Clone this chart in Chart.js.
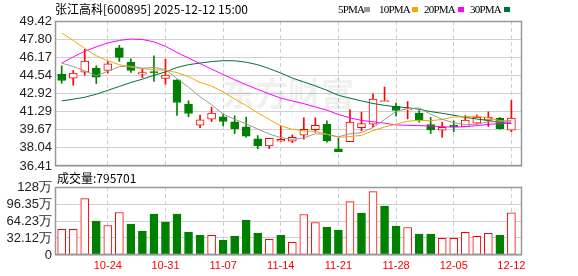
<!DOCTYPE html>
<html><head><meta charset="utf-8">
<script src="https://cdn.jsdelivr.net/npm/chart.js@4.4.1/dist/chart.umd.min.js"></script>
<style>
html,body{margin:0;padding:0;background:#fff;width:578px;height:276px;overflow:hidden;}
body{position:relative;font-family:"Noto Sans CJK SC",sans-serif;}
canvas{position:absolute;left:0;}
#c1{top:0;}
#c2{top:176px;}
.t{position:absolute;white-space:nowrap;color:#000;line-height:16px;}
.lg{position:absolute;top:1px;font-family:"Liberation Serif",serif;font-size:11px;letter-spacing:-0.8px;line-height:16px;color:#000;}
.sq{position:absolute;top:7px;width:6px;height:5px;}
</style></head><body>
<canvas id="c1" width="578" height="180"></canvas>
<canvas id="c2" width="578" height="100"></canvas>
<div class="t" style="left:55px;top:1px;font-size:12px;">张江高科[600895] 2025-12-12 15:00</div>
<div class="lg" style="left:338px">5PMA</div><div class="sq" style="left:364px;background:#999999"></div>
<div class="lg" style="left:379px">10PMA</div><div class="sq" style="left:412px;background:#f5a700"></div>
<div class="lg" style="left:424px">20PMA</div><div class="sq" style="left:458px;background:#ff00ff"></div>
<div class="lg" style="left:470px">30PMA</div><div class="sq" style="left:504px;background:#00703c"></div>
<div class="t" style="left:57px;top:170px;font-size:12px;">成交量:<span id="lastVol"></span></div>
<script>
// ---------- data ----------
const dates = ['10-20','10-21','10-22','10-23','10-24','10-27','10-28','10-29','10-30','10-31',
  '11-03','11-04','11-05','11-06','11-07','11-10','11-11','11-12','11-13','11-14',
  '11-17','11-18','11-19','11-20','11-21','11-24','11-25','11-26','11-27','11-28',
  '12-01','12-02','12-03','12-04','12-05','12-08','12-09','12-10','12-11','12-12'];
const opens  = [44.65,44.29,44.83,45.19,44.98,47.02,45.73,44.65,44.89,44.27,44.14,41.96,40.07,40.61,40.82,40.37,39.92,38.84,38.21,38.63,38.63,39.17,39.68,40.16,37.94,38.60,39.86,40.16,42.19,41.78,41.45,41.15,40.13,39.62,40.07,39.95,40.25,40.52,40.70,39.62];
const highs  = [45.40,44.98,46.90,45.40,45.79,47.23,46.03,45.16,46.30,46.00,44.14,42.26,40.97,41.69,41.06,40.91,40.79,39.14,38.90,40.01,39.20,40.73,40.73,40.46,38.90,41.45,41.24,42.89,43.49,42.05,42.19,41.39,40.76,40.34,40.46,40.94,41.00,41.27,40.76,42.29];
const lows   = [43.84,43.66,44.56,43.81,44.74,45.79,44.80,44.33,43.99,43.75,40.94,40.82,39.86,40.40,40.01,39.32,38.99,37.97,37.97,38.63,38.51,38.81,39.44,38.54,37.70,38.60,39.56,39.89,42.19,40.88,40.64,40.34,39.32,38.99,39.47,39.95,40.19,39.95,39.71,39.47];
const closes = [44.08,44.74,45.82,44.38,45.58,46.15,44.98,44.80,44.78,44.56,42.11,41.12,40.55,41.15,40.40,39.77,39.08,38.24,38.90,38.81,38.99,39.71,40.07,38.66,37.70,40.34,40.22,42.41,42.22,41.39,41.51,40.55,39.65,39.89,39.92,40.52,40.79,40.80,39.77,40.70];
const prevClose = 43.95;
const ma5  = [45.64,45.34,44.95,44.50,44.92,45.33,45.38,45.18,45.26,45.06,44.25,43.48,42.63,41.90,41.07,40.60,40.19,39.73,39.28,38.96,38.80,38.93,39.30,39.25,39.03,39.30,39.40,39.87,40.58,41.32,41.55,41.62,41.06,40.60,40.30,40.11,40.16,40.38,40.36,40.51];
const ma10 = [48.34,47.68,46.95,46.30,45.85,45.50,45.28,45.15,45.05,44.99,44.79,44.43,43.90,43.58,43.06,42.42,41.83,41.18,40.59,40.01,39.70,39.56,39.51,39.26,38.99,39.05,39.16,39.58,39.91,40.17,40.42,40.51,40.47,40.59,40.81,40.83,40.89,40.72,40.48,40.41];
const ma20 = [45.64,46.20,46.70,47.10,47.45,47.68,47.80,47.76,47.55,47.15,46.60,46.10,45.60,45.10,44.62,44.15,43.70,43.28,42.88,42.50,42.25,42.00,41.71,41.42,41.03,40.74,40.50,40.38,40.25,40.09,40.06,40.03,39.99,39.93,39.90,39.94,40.03,40.15,40.20,40.29];
const ma30 = [42.25,42.40,42.58,42.85,43.20,43.55,43.90,44.20,44.55,44.85,45.25,45.50,45.65,45.78,45.86,45.85,45.72,45.50,45.15,44.75,44.30,43.95,43.60,43.20,42.75,42.50,42.25,42.02,41.85,41.72,41.64,41.50,41.29,41.14,40.96,40.77,40.63,40.49,40.33,40.20];
// volume in 万 (10k) shares
const volumes = [48.3,48.3,106.6,64.0,55.8,80.3,58.3,45.1,77.1,62.1,77.1,43.3,37.0,37.0,28.2,35.7,65.8,41.4,29.5,37.0,23.8,76.5,61.4,52.7,47.0,100.9,79.0,119.8,92.2,54.5,52.0,39.5,39.5,31.4,31.4,42.6,35.1,40.8,37.0,79.5701];
const priceTicks = [49.42,47.80,46.17,44.54,42.92,41.29,39.67,38.04,36.41];
const volTicks = [0,32.12,64.23,96.35,128.47];
const volTickLabels = ['0','32.12万','64.23万','96.35万','128万'];
const dateTickIdx = [5,10,15,20,25,30,35,40];
const lastVolume = 795701;
const wmText = '东方财富';

// ---------- styles ----------
const RED='#ff0000', GREEN='#008000', GRID='#d0d0d0', FRAME='#999999';
const xs = dates.map((d,i)=>i+1);
const candleUp = i => closes[i] >= opens[i];
const volUp = i => closes[i] > (i===0 ? prevClose : closes[i-1]);
document.getElementById('lastVol').textContent = lastVolume;

const watermark = {id:'wm', beforeDatasetsDraw(chart){
  const ctx=chart.ctx; ctx.save();
  ctx.font='bold 33px "Noto Sans CJK SC"';
  ctx.fillStyle='rgba(0,0,0,0.06)';
  ctx.textBaseline='middle';
  ctx.fillText(wmText, 222, 93);
  ctx.restore();
}};
const frame = {id:'frame', afterDraw(chart){
  const a=chart.chartArea, ctx=chart.ctx; ctx.save();
  ctx.strokeStyle=FRAME; ctx.lineWidth=1.5; ctx.setLineDash([]);
  ctx.strokeRect(Math.round(a.left)+0.5, Math.round(a.top)+0.5, Math.round(a.right-a.left)-1, Math.round(a.bottom-a.top)-1);
  ctx.restore();
}};

const xMin=0.42, xMax=40.92;
const xCommon = (showLabels) => ({
  type:'linear', min:xMin, max:xMax, offset:false,
  afterBuildTicks: s => { s.ticks = dateTickIdx.map(v=>({value:v})); },
  afterFit: s => { s.height = showLabels ? 21 : 0; },
  ticks: showLabels ? {display:true, color:RED, font:{family:'Liberation Sans', size:11}, padding:4, maxRotation:0, autoSkip:false, callback: v => dates[v-1]} : {display:false},
  grid:{color:GRID, drawTicks:false, lineWidth:1, offset:false},
  border:{display:false, dash:[4,3]}
});
const yCommon = (mn, mx, tickVals, labelFn) => ({
  min:mn, max:mx,
  afterBuildTicks: s => { s.ticks = tickVals.map(v=>({value:v})); },
  afterFit: s => { s.width = 55; },
  ticks:{color:'#222', font:{family:'Liberation Sans', size:13}, padding:3, autoSkip:false, callback: labelFn},
  grid:{color:GRID, drawTicks:false}, border:{display:false}
});

new Chart(document.getElementById('c1'), {
  data:{datasets:[
    {type:'bar', order:3, grouped:false, barThickness:1, data: xs.map((x,i)=>({x, y:[lows[i], highs[i]]})),
     backgroundColor: c => candleUp(c.dataIndex)?RED:GREEN, borderWidth:0},
    {type:'bar', order:2, grouped:false, barThickness:8, minBarLength:1, borderSkipped:false, data: xs.map((x,i)=>({x, y:[opens[i], closes[i]]})),
     backgroundColor: c => candleUp(c.dataIndex)?'#ffffff':GREEN,
     borderColor: c => candleUp(c.dataIndex)?RED:GREEN, borderWidth:1},
    {type:'line', order:1, data: xs.map((x,i)=>({x,y:ma5[i]})),  borderColor:'#999999', borderWidth:1, pointRadius:0, tension:0},
    {type:'line', order:1, data: xs.map((x,i)=>({x,y:ma10[i]})), borderColor:'#f5a700', borderWidth:1, pointRadius:0, tension:0},
    {type:'line', order:1, data: xs.map((x,i)=>({x,y:ma20[i]})), borderColor:'#ff00ff', borderWidth:1, pointRadius:0, tension:0},
    {type:'line', order:1, data: xs.map((x,i)=>({x,y:ma30[i]})), borderColor:'#00703c', borderWidth:1, pointRadius:0, tension:0}
  ]},
  options:{
    responsive:false, animation:false, events:[],
    layout:{padding:{top:21,right:56,bottom:14,left:0}},
    plugins:{legend:{display:false}, tooltip:{enabled:false}},
    scales:{
      x: xCommon(false),
      y: yCommon(36.41, 49.42, priceTicks, v => Number(v).toFixed(2))
    }
  },
  plugins:[watermark, frame]
});

new Chart(document.getElementById('c2'), {
  data:{datasets:[
    {type:'bar', grouped:false, barThickness:8, borderSkipped:false, data: xs.map((x,i)=>({x, y:volumes[i]})),
     backgroundColor: c => volUp(c.dataIndex)?'#ffffff':GREEN,
     borderColor: c => volUp(c.dataIndex)?RED:GREEN, borderWidth:1}
  ]},
  options:{
    responsive:false, animation:false, events:[],
    layout:{padding:{top:11,right:56,bottom:0,left:0}},
    plugins:{legend:{display:false}, tooltip:{enabled:false}},
    scales:{
      x: xCommon(true),
      y: yCommon(0, 128.47, volTicks, (v,i) => volTickLabels[i])
    }
  },
  plugins:[frame]
});
</script>
</body></html>
